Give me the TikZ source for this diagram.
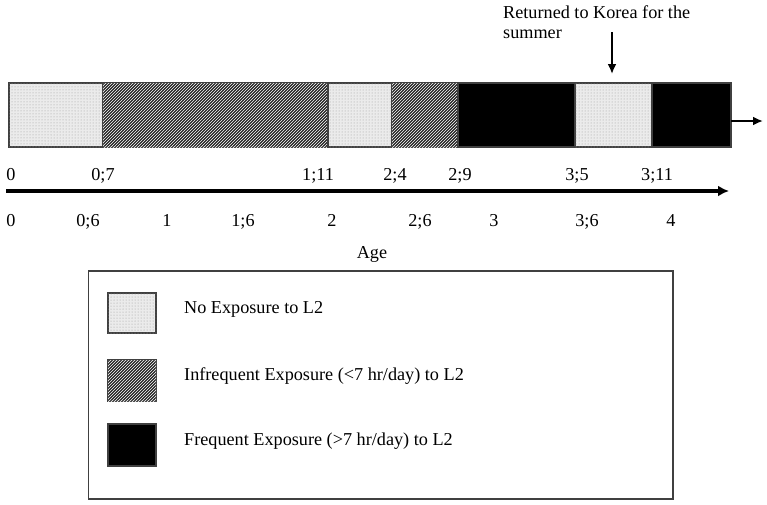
\documentclass[tikz,border=0pt]{standalone}
\usepackage{fontspec}
\setmainfont{Liberation Serif}
\usetikzlibrary{patterns,arrows.meta}
\begin{document}
\begin{tikzpicture}[x=1pt,y=-1pt,
  txt/.style={inner sep=0pt,font=\fontsize{18.2}{20.5}\selectfont},
  noexp/.style={draw=black!75,line width=1.2pt,fill=black!8,postaction={pattern=dots,pattern color=black!40}},
  infreq/.style={draw=black!75,line width=1.2pt,fill=black!85,postaction={pattern=north east lines,pattern color=white}},
  freq/.style={draw=black!75,line width=1.2pt,fill=black},
  thinarrow/.style={line width=2pt,-{Latex[length=10pt,width=9pt]}},
  axisarrow/.style={line width=4pt,-{Latex[length=11pt,width=11pt]}}
]
\useasboundingbox (0,0) rectangle (767,504);
% bar segments
\draw[noexp] (9,83) rectangle (103,147);
\draw[infreq] (103,83) rectangle (328,147);
\draw[noexp] (328,83) rectangle (392,147);
\draw[infreq] (392,83) rectangle (458,147);
\draw[freq] (458,83) rectangle (575,147);
\draw[noexp] (575,83) rectangle (652,147);
\draw[freq] (652,83) rectangle (731,147);
\coordinate (barend) at (731,121);
\coordinate (barout) at (763,121);
\draw[thinarrow] (barend) -- (barout);
% annotation
\node[txt,anchor=base west,align=left] (note) at (503,38.5) {Returned to Korea for the\\summer};
\coordinate (dtop) at (612,32);
\coordinate (dbot) at (612,74);
\draw[thinarrow] (dtop) -- (dbot);
% axis
\coordinate (axs) at (6,191);
\coordinate (axe) at (729,191);
\draw[axisarrow] (axs) -- (axe);
% upper labels
\foreach \x/\t [count=\i] in {11/0,103/0;7,318/1;11,395/2;4,460/2;9,577/3;5,657/3;11}
  \node[txt,anchor=base] (u\i) at (\x,180) {\t};
% lower labels
\foreach \x/\t [count=\i] in {11/0,88/0;6,167/1,243/1;6,332/2,420/2;6,494/3,587/3;6,671/4}
  \node[txt,anchor=base] (l\i) at (\x,226) {\t};
\node[txt,anchor=base] (age) at (372,258) {Age};
% legend
\draw[draw=black!75,line width=1.8pt] (88.5,271) rectangle (673,499);
\draw[noexp] (108,293) rectangle (156,333);
\draw[infreq] (108,360) rectangle (156,401);
\draw[freq] (108,424) rectangle (156,466);
\node[txt,anchor=base west] (lg1) at (184,313) {No Exposure to L2};
\node[txt,anchor=base west] (lg2) at (184,380.5) {Infrequent Exposure (<7 hr/day) to L2};
\node[txt,anchor=base west] (lg3) at (184,445) {Frequent Exposure (>7 hr/day) to L2};
\end{tikzpicture}
\end{document}
